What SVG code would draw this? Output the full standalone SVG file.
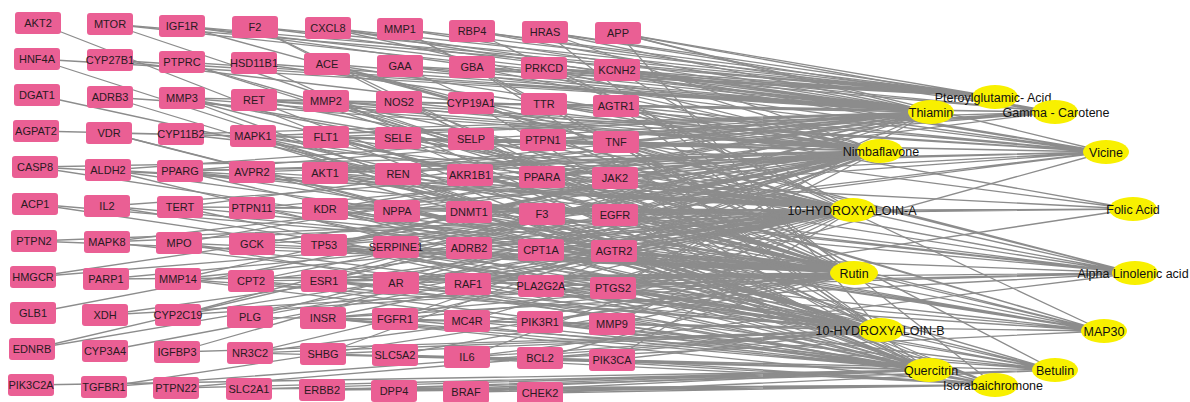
<svg xmlns="http://www.w3.org/2000/svg" width="1190" height="402" viewBox="0 0 1190 402">
<style>
.bg{fill:#ffffff}
#edges path{fill:none;stroke:#8c8c8c;stroke-width:1.3}
.t rect{fill:#EA5F94}
.t text{font-family:"Liberation Sans",Arial,sans-serif;font-size:11px;fill:#2a1a22;text-anchor:middle}
.c ellipse{fill:#F8F000}
.c text{font-family:"Liberation Sans",Arial,sans-serif;font-size:12.5px;fill:#111;text-anchor:middle}
</style>
<rect class="bg" x="0" y="0" width="1190" height="402"/>
<g id="edges">
<path id="e-Pt" d="M995 97L110 24M995 97L328 28M995 97L400 29M995 97L400 66M995 97L545 32M995 97L255 27M995 97L182 26M995 97L472 31M995 97L618 33M995 97L617 70M995 97L472 67M995 97L544 68"/>
<path id="e-Th" d="M931 112L110 24M931 112L182 26M931 112L255 27M931 112L328 28M931 112L400 29M931 112L472 31M931 112L545 32M931 112L618 33M931 112L37 59M931 112L110 60M931 112L182 62M931 112L254 63M931 112L327 64M931 112L400 66M931 112L472 67M931 112L544 68M931 112L617 70M931 112L182 98M931 112L254 100M931 112L326 101M931 112L399 102M931 112L471 103M931 112L544 104M931 112L616 106M931 112L181 134M931 112L253 136M931 112L326 137M931 112L471 139M931 112L543 140M931 112L616 142M931 112L108 170M931 112L180 171M931 112L325 173M931 112L398 174M931 112L542 177M931 112L180 207M931 112L325 209M931 112L469 212M931 112L615 215M931 112L179 243M931 112L324 245M931 112L614 251M931 112L178 279M931 112L324 281M931 112L613 288M931 112L178 315"/>
<path id="e-GC" d="M1055 112L472 31M1055 112L544 68M1055 112L471 103M1055 112L542 177M1055 112L543 140M1055 112L616 106M1055 112L617 70M1055 112L618 33M1055 112L545 32M1055 112L253 136M1055 112L616 142M1055 112L325 173"/>
<path id="e-Ni" d="M880 151L328 28M880 151L545 32M880 151L110 60M880 151L254 63M880 151L327 64M880 151L472 67M880 151L544 68M880 151L617 70M880 151L110 97M880 151L182 98M880 151L254 100M880 151L326 101M880 151L399 102M880 151L471 103M880 151L544 104M880 151L616 106M880 151L36 131M880 151L109 133M880 151L253 136M880 151L326 137M880 151L398 138M880 151L471 139M880 151L543 140M880 151L616 142M880 151L35 167M880 151L180 171M880 151L252 172M880 151L325 173M880 151L470 175M880 151L542 177M880 151L615 178M880 151L107 206M880 151L252 208M880 151L325 209M880 151L397 211M880 151L542 214M880 151L615 215M880 151L107 242M880 151L252 244M880 151L324 245M880 151L396 247M880 151L541 250M880 151L33 277M880 151L251 281M880 151L396 283M880 151L541 286M880 151L613 288M880 151L33 313M880 151L178 315M880 151L250 317M880 151L395 319M880 151L32 349M880 151L177 352M880 151L323 354"/>
<path id="e-Vi" d="M1106 152L182 26M1106 152L618 33M1106 152L326 101M1106 152L544 104M1106 152L616 106M1106 152L471 139M1106 152L616 142M1106 152L615 178M1106 152L615 215M1106 152L617 70M1106 152L328 28M1106 152L400 66M1106 152L254 100M1106 152L326 137M1106 152L325 173M1106 152L180 171M1106 152L325 209M1106 152L613 288M1106 152L324 245"/>
<path id="e-HA" d="M853 210L182 26M853 210L472 31M853 210L327 64M853 210L617 70M853 210L182 98M853 210L254 100M853 210L326 101M853 210L616 106M853 210L181 134M853 210L253 136M853 210L326 137M853 210L398 138M853 210L471 139M853 210L543 140M853 210L616 142M853 210L35 167M853 210L108 170M853 210L180 171M853 210L252 172M853 210L325 173M853 210L398 174M853 210L470 175M853 210L542 177M853 210L615 178M853 210L180 207M853 210L252 208M853 210L325 209M853 210L397 211M853 210L469 212M853 210L542 214M853 210L615 215M853 210L34 241M853 210L107 242M853 210L252 244M853 210L324 245M853 210L396 247M853 210L469 248M853 210L541 250M853 210L614 251M853 210L33 277M853 210L106 279M853 210L178 279M853 210L251 281M853 210L324 281M853 210L396 283M853 210L468 284M853 210L613 288M853 210L105 315M853 210L178 315M853 210L250 317M853 210L323 318M853 210L467 321M853 210L612 324M853 210L32 349M853 210L105 351M853 210L250 353M853 210L467 357M853 210L612 360"/>
<path id="e-FA" d="M1133 209L470 175M1133 209L544 104M1133 209L615 215M1133 209L613 288M1133 209L469 212M1133 209L616 142"/>
<path id="e-Ru" d="M854 273L110 24M854 273L400 29M854 273L182 62M854 273L400 66M854 273L37 95M854 273L182 98M854 273L326 101M854 273L399 102M854 273L616 106M854 273L253 136M854 273L326 137M854 273L398 138M854 273L616 142M854 273L108 170M854 273L180 171M854 273L325 173M854 273L398 174M854 273L470 175M854 273L542 177M854 273L615 178M854 273L35 204M854 273L107 206M854 273L180 207M854 273L252 208M854 273L325 209M854 273L397 211M854 273L469 212M854 273L542 214M854 273L615 215M854 273L34 241M854 273L179 243M854 273L252 244M854 273L324 245M854 273L396 247M854 273L469 248M854 273L541 250M854 273L614 251M854 273L106 279M854 273L178 279M854 273L251 281M854 273L324 281M854 273L396 283M854 273L468 284M854 273L541 286M854 273L613 288M854 273L105 315M854 273L178 315M854 273L323 318M854 273L395 319M854 273L540 322M854 273L612 324M854 273L250 353M854 273L395 355M854 273L540 358M854 273L104 387"/>
<path id="e-AL" d="M1135 273L327 64M1135 273L543 140M1135 273L325 173M1135 273L469 212M1135 273L615 215M1135 273L469 248M1135 273L541 286M1135 273L182 98M1135 273L253 136M1135 273L616 142M1135 273L180 171M1135 273L324 281M1135 273L613 288M1135 273L323 318M1135 273L467 357"/>
<path id="e-HB" d="M881 330L255 27M881 330L618 33M881 330L37 59M881 330L472 67M881 330L110 97M881 330L399 102M881 330L109 133M881 330L253 136M881 330L616 142M881 330L252 172M881 330L325 173M881 330L615 178M881 330L35 204M881 330L107 206M881 330L252 208M881 330L325 209M881 330L469 212M881 330L615 215M881 330L107 242M881 330L179 243M881 330L324 245M881 330L396 247M881 330L469 248M881 330L614 251M881 330L178 279M881 330L251 281M881 330L324 281M881 330L468 284M881 330L541 286M881 330L613 288M881 330L250 317M881 330L323 318M881 330L395 319M881 330L467 321M881 330L540 322M881 330L612 324M881 330L177 352M881 330L250 353M881 330L323 354M881 330L467 357M881 330L540 358M881 330L612 360M881 330L104 387M881 330L176 388"/>
<path id="e-MA" d="M1104 331L182 62M1104 331L544 68M1104 331L326 101M1104 331L326 137M1104 331L397 211M1104 331L614 251M1104 331L613 288M1104 331L612 324M1104 331L324 245M1104 331L325 209M1104 331L325 173M1104 331L324 281M1104 331L615 215M1104 331L540 358M1104 331L35 167"/>
<path id="e-Qu" d="M929 370L38 23M929 370L255 27M929 370L254 63M929 370L182 98M929 370L471 103M929 370L253 136M929 370L616 142M929 370L108 170M929 370L398 174M929 370L180 207M929 370L542 214M929 370L615 215M929 370L179 243M929 370L324 245M929 370L541 250M929 370L178 279M929 370L251 281M929 370L396 283M929 370L541 286M929 370L613 288M929 370L323 318M929 370L395 319M929 370L467 321M929 370L540 322M929 370L612 324M929 370L250 353M929 370L323 354M929 370L395 355M929 370L467 357M929 370L540 358M929 370L612 360M929 370L31 385M929 370L176 388M929 370L249 389M929 370L322 390M929 370L394 391M929 370L466 392"/>
<path id="e-Be" d="M1055 370L400 29M1055 370L109 133M1055 370L180 171M1055 370L324 245M1055 370L324 281M1055 370L613 288M1055 370L540 322M1055 370L467 357M1055 370L612 360M1055 370L322 390M1055 370L540 393M1055 370L253 136M1055 370L616 142M1055 370L323 318"/>
<path id="e-Is" d="M995 385L545 32M995 385L254 100M995 385L398 138M995 385L325 209M995 385L614 251M995 385L468 284M995 385L323 318M995 385L612 324M995 385L395 355M995 385L540 358M995 385L612 360M995 385L249 389M995 385L322 390M995 385L394 391M995 385L466 392M995 385L540 393"/>
</g>
<g id="compounds">
<g id="c-pteroylglutamic" class="c"><ellipse cx="995" cy="97" rx="23" ry="12"/><text x="993" y="102">Pteroylglutamic- Acid</text></g>
<g id="c-thiamin" class="c"><ellipse cx="931" cy="112" rx="23" ry="12"/><text x="931" y="117">Thiamin</text></g>
<g id="c-gamma-carotene" class="c"><ellipse cx="1055" cy="112" rx="23" ry="12"/><text x="1056" y="117">Gamma - Carotene</text></g>
<g id="c-nimbaflavone" class="c"><ellipse cx="880" cy="151" rx="23" ry="12"/><text x="881" y="156">Nimbaflavone</text></g>
<g id="c-vicine" class="c"><ellipse cx="1106" cy="152" rx="23" ry="12"/><text x="1106" y="157">Vicine</text></g>
<g id="c-10-hydroxyaloin-a" class="c"><ellipse cx="853" cy="210" rx="23" ry="12"/><text x="852" y="215">10-HYDROXYALOIN-A</text></g>
<g id="c-folic-acid" class="c"><ellipse cx="1133" cy="209" rx="24" ry="12"/><text x="1133" y="214">Folic Acid</text></g>
<g id="c-rutin" class="c"><ellipse cx="854" cy="273" rx="24" ry="12"/><text x="854" y="278">Rutin</text></g>
<g id="c-alpha-linolenic" class="c"><ellipse cx="1135" cy="273" rx="23" ry="12"/><text x="1133" y="278">Alpha Linolenic acid</text></g>
<g id="c-10-hydroxyaloin-b" class="c"><ellipse cx="881" cy="330" rx="23" ry="12"/><text x="880" y="335">10-HYDROXYALOIN-B</text></g>
<g id="c-map30" class="c"><ellipse cx="1104" cy="331" rx="23" ry="12"/><text x="1104" y="336">MAP30</text></g>
<g id="c-quercitrin" class="c"><ellipse cx="929" cy="370" rx="24" ry="12"/><text x="931" y="375">Quercitrin</text></g>
<g id="c-betulin" class="c"><ellipse cx="1055" cy="370" rx="23" ry="12"/><text x="1055" y="375">Betulin</text></g>
<g id="c-isorabaichromone" class="c"><ellipse cx="995" cy="385" rx="23" ry="12"/><text x="993" y="390">Isorabaichromone</text></g>
</g>
<g id="targets">
<g id="n-AKT2" class="t"><rect x="15" y="12" width="46" height="22" rx="3"/><text x="38" y="27">AKT2</text></g>
<g id="n-HNF4A" class="t"><rect x="14" y="48" width="46" height="22" rx="3"/><text x="37" y="63">HNF4A</text></g>
<g id="n-DGAT1" class="t"><rect x="14" y="84" width="46" height="22" rx="3"/><text x="37" y="99">DGAT1</text></g>
<g id="n-AGPAT2" class="t"><rect x="13" y="120" width="46" height="22" rx="3"/><text x="36" y="135">AGPAT2</text></g>
<g id="n-CASP8" class="t"><rect x="12" y="156" width="46" height="22" rx="3"/><text x="35" y="171">CASP8</text></g>
<g id="n-ACP1" class="t"><rect x="12" y="193" width="46" height="22" rx="3"/><text x="35" y="208">ACP1</text></g>
<g id="n-PTPN2" class="t"><rect x="11" y="230" width="46" height="22" rx="3"/><text x="34" y="245">PTPN2</text></g>
<g id="n-HMGCR" class="t"><rect x="10" y="266" width="46" height="22" rx="3"/><text x="33" y="281">HMGCR</text></g>
<g id="n-GLB1" class="t"><rect x="10" y="302" width="46" height="22" rx="3"/><text x="33" y="317">GLB1</text></g>
<g id="n-EDNRB" class="t"><rect x="9" y="338" width="46" height="22" rx="3"/><text x="32" y="353">EDNRB</text></g>
<g id="n-PIK3C2A" class="t"><rect x="8" y="374" width="46" height="22" rx="3"/><text x="31" y="389">PIK3C2A</text></g>
<g id="n-MTOR" class="t"><rect x="87" y="13" width="46" height="22" rx="3"/><text x="110" y="28">MTOR</text></g>
<g id="n-CYP27B1" class="t"><rect x="87" y="49" width="46" height="22" rx="3"/><text x="110" y="64">CYP27B1</text></g>
<g id="n-ADRB3" class="t"><rect x="87" y="86" width="46" height="22" rx="3"/><text x="110" y="101">ADRB3</text></g>
<g id="n-VDR" class="t"><rect x="86" y="122" width="46" height="22" rx="3"/><text x="109" y="137">VDR</text></g>
<g id="n-ALDH2" class="t"><rect x="85" y="159" width="46" height="22" rx="3"/><text x="108" y="174">ALDH2</text></g>
<g id="n-IL2" class="t"><rect x="84" y="195" width="46" height="22" rx="3"/><text x="107" y="210">IL2</text></g>
<g id="n-MAPK8" class="t"><rect x="84" y="231" width="46" height="22" rx="3"/><text x="107" y="246">MAPK8</text></g>
<g id="n-PARP1" class="t"><rect x="83" y="268" width="46" height="22" rx="3"/><text x="106" y="283">PARP1</text></g>
<g id="n-XDH" class="t"><rect x="82" y="304" width="46" height="22" rx="3"/><text x="105" y="319">XDH</text></g>
<g id="n-CYP3A4" class="t"><rect x="82" y="340" width="46" height="22" rx="3"/><text x="105" y="355">CYP3A4</text></g>
<g id="n-TGFBR1" class="t"><rect x="81" y="376" width="46" height="22" rx="3"/><text x="104" y="391">TGFBR1</text></g>
<g id="n-IGF1R" class="t"><rect x="159" y="15" width="46" height="22" rx="3"/><text x="182" y="30">IGF1R</text></g>
<g id="n-PTPRC" class="t"><rect x="159" y="51" width="46" height="22" rx="3"/><text x="182" y="66">PTPRC</text></g>
<g id="n-MMP3" class="t"><rect x="159" y="87" width="46" height="22" rx="3"/><text x="182" y="102">MMP3</text></g>
<g id="n-CYP11B2" class="t"><rect x="158" y="123" width="46" height="22" rx="3"/><text x="181" y="138">CYP11B2</text></g>
<g id="n-PPARG" class="t"><rect x="157" y="160" width="46" height="22" rx="3"/><text x="180" y="175">PPARG</text></g>
<g id="n-TERT" class="t"><rect x="157" y="196" width="46" height="22" rx="3"/><text x="180" y="211">TERT</text></g>
<g id="n-MPO" class="t"><rect x="156" y="232" width="46" height="22" rx="3"/><text x="179" y="247">MPO</text></g>
<g id="n-MMP14" class="t"><rect x="155" y="268" width="46" height="22" rx="3"/><text x="178" y="283">MMP14</text></g>
<g id="n-CYP2C19" class="t"><rect x="155" y="304" width="46" height="22" rx="3"/><text x="178" y="319">CYP2C19</text></g>
<g id="n-IGFBP3" class="t"><rect x="154" y="341" width="46" height="22" rx="3"/><text x="177" y="356">IGFBP3</text></g>
<g id="n-PTPN22" class="t"><rect x="153" y="377" width="46" height="22" rx="3"/><text x="176" y="392">PTPN22</text></g>
<g id="n-F2" class="t"><rect x="232" y="16" width="46" height="22" rx="3"/><text x="255" y="31">F2</text></g>
<g id="n-HSD11B1" class="t"><rect x="231" y="52" width="46" height="22" rx="3"/><text x="254" y="67">HSD11B1</text></g>
<g id="n-RET" class="t"><rect x="231" y="89" width="46" height="22" rx="3"/><text x="254" y="104">RET</text></g>
<g id="n-MAPK1" class="t"><rect x="230" y="125" width="46" height="22" rx="3"/><text x="253" y="140">MAPK1</text></g>
<g id="n-AVPR2" class="t"><rect x="229" y="161" width="46" height="22" rx="3"/><text x="252" y="176">AVPR2</text></g>
<g id="n-PTPN11" class="t"><rect x="229" y="197" width="46" height="22" rx="3"/><text x="252" y="212">PTPN11</text></g>
<g id="n-GCK" class="t"><rect x="229" y="233" width="46" height="22" rx="3"/><text x="252" y="248">GCK</text></g>
<g id="n-CPT2" class="t"><rect x="228" y="270" width="46" height="22" rx="3"/><text x="251" y="285">CPT2</text></g>
<g id="n-PLG" class="t"><rect x="227" y="306" width="46" height="22" rx="3"/><text x="250" y="321">PLG</text></g>
<g id="n-NR3C2" class="t"><rect x="227" y="342" width="46" height="22" rx="3"/><text x="250" y="357">NR3C2</text></g>
<g id="n-SLC2A1" class="t"><rect x="226" y="378" width="46" height="22" rx="3"/><text x="249" y="393">SLC2A1</text></g>
<g id="n-CXCL8" class="t"><rect x="305" y="17" width="46" height="22" rx="3"/><text x="328" y="32">CXCL8</text></g>
<g id="n-ACE" class="t"><rect x="304" y="53" width="46" height="22" rx="3"/><text x="327" y="68">ACE</text></g>
<g id="n-MMP2" class="t"><rect x="303" y="90" width="46" height="22" rx="3"/><text x="326" y="105">MMP2</text></g>
<g id="n-FLT1" class="t"><rect x="303" y="126" width="46" height="22" rx="3"/><text x="326" y="141">FLT1</text></g>
<g id="n-AKT1" class="t"><rect x="302" y="162" width="46" height="22" rx="3"/><text x="325" y="177">AKT1</text></g>
<g id="n-KDR" class="t"><rect x="302" y="198" width="46" height="22" rx="3"/><text x="325" y="213">KDR</text></g>
<g id="n-TP53" class="t"><rect x="301" y="234" width="46" height="22" rx="3"/><text x="324" y="249">TP53</text></g>
<g id="n-ESR1" class="t"><rect x="301" y="270" width="46" height="22" rx="3"/><text x="324" y="285">ESR1</text></g>
<g id="n-INSR" class="t"><rect x="300" y="307" width="46" height="22" rx="3"/><text x="323" y="322">INSR</text></g>
<g id="n-SHBG" class="t"><rect x="300" y="343" width="46" height="22" rx="3"/><text x="323" y="358">SHBG</text></g>
<g id="n-ERBB2" class="t"><rect x="299" y="379" width="46" height="22" rx="3"/><text x="322" y="394">ERBB2</text></g>
<g id="n-MMP1" class="t"><rect x="377" y="18" width="46" height="22" rx="3"/><text x="400" y="33">MMP1</text></g>
<g id="n-GAA" class="t"><rect x="377" y="55" width="46" height="22" rx="3"/><text x="400" y="70">GAA</text></g>
<g id="n-NOS2" class="t"><rect x="376" y="91" width="46" height="22" rx="3"/><text x="399" y="106">NOS2</text></g>
<g id="n-SELE" class="t"><rect x="375" y="127" width="46" height="22" rx="3"/><text x="398" y="142">SELE</text></g>
<g id="n-REN" class="t"><rect x="375" y="163" width="46" height="22" rx="3"/><text x="398" y="178">REN</text></g>
<g id="n-NPPA" class="t"><rect x="374" y="200" width="46" height="22" rx="3"/><text x="397" y="215">NPPA</text></g>
<g id="n-SERPINE1" class="t"><rect x="373" y="236" width="46" height="22" rx="3"/><text x="396" y="251">SERPINE1</text></g>
<g id="n-AR" class="t"><rect x="373" y="272" width="46" height="22" rx="3"/><text x="396" y="287">AR</text></g>
<g id="n-FGFR1" class="t"><rect x="372" y="308" width="46" height="22" rx="3"/><text x="395" y="323">FGFR1</text></g>
<g id="n-SLC5A2" class="t"><rect x="372" y="344" width="46" height="22" rx="3"/><text x="395" y="359">SLC5A2</text></g>
<g id="n-DPP4" class="t"><rect x="371" y="380" width="46" height="22" rx="3"/><text x="394" y="395">DPP4</text></g>
<g id="n-RBP4" class="t"><rect x="449" y="20" width="46" height="22" rx="3"/><text x="472" y="35">RBP4</text></g>
<g id="n-GBA" class="t"><rect x="449" y="56" width="46" height="22" rx="3"/><text x="472" y="71">GBA</text></g>
<g id="n-CYP19A1" class="t"><rect x="448" y="92" width="46" height="22" rx="3"/><text x="471" y="107">CYP19A1</text></g>
<g id="n-SELP" class="t"><rect x="448" y="128" width="46" height="22" rx="3"/><text x="471" y="143">SELP</text></g>
<g id="n-AKR1B1" class="t"><rect x="447" y="164" width="46" height="22" rx="3"/><text x="470" y="179">AKR1B1</text></g>
<g id="n-DNMT1" class="t"><rect x="446" y="201" width="46" height="22" rx="3"/><text x="469" y="216">DNMT1</text></g>
<g id="n-ADRB2" class="t"><rect x="446" y="237" width="46" height="22" rx="3"/><text x="469" y="252">ADRB2</text></g>
<g id="n-RAF1" class="t"><rect x="445" y="273" width="46" height="22" rx="3"/><text x="468" y="288">RAF1</text></g>
<g id="n-MC4R" class="t"><rect x="444" y="310" width="46" height="22" rx="3"/><text x="467" y="325">MC4R</text></g>
<g id="n-IL6" class="t"><rect x="444" y="346" width="46" height="22" rx="3"/><text x="467" y="361">IL6</text></g>
<g id="n-BRAF" class="t"><rect x="443" y="381" width="46" height="22" rx="3"/><text x="466" y="396">BRAF</text></g>
<g id="n-HRAS" class="t"><rect x="522" y="21" width="46" height="22" rx="3"/><text x="545" y="36">HRAS</text></g>
<g id="n-PRKCD" class="t"><rect x="521" y="57" width="46" height="22" rx="3"/><text x="544" y="72">PRKCD</text></g>
<g id="n-TTR" class="t"><rect x="521" y="93" width="46" height="22" rx="3"/><text x="544" y="108">TTR</text></g>
<g id="n-PTPN1" class="t"><rect x="520" y="129" width="46" height="22" rx="3"/><text x="543" y="144">PTPN1</text></g>
<g id="n-PPARA" class="t"><rect x="519" y="166" width="46" height="22" rx="3"/><text x="542" y="181">PPARA</text></g>
<g id="n-F3" class="t"><rect x="519" y="203" width="46" height="22" rx="3"/><text x="542" y="218">F3</text></g>
<g id="n-CPT1A" class="t"><rect x="518" y="239" width="46" height="22" rx="3"/><text x="541" y="254">CPT1A</text></g>
<g id="n-PLA2G2A" class="t"><rect x="518" y="275" width="46" height="22" rx="3"/><text x="541" y="290">PLA2G2A</text></g>
<g id="n-PIK3R1" class="t"><rect x="517" y="311" width="46" height="22" rx="3"/><text x="540" y="326">PIK3R1</text></g>
<g id="n-BCL2" class="t"><rect x="517" y="347" width="46" height="22" rx="3"/><text x="540" y="362">BCL2</text></g>
<g id="n-CHEK2" class="t"><rect x="517" y="382" width="46" height="22" rx="3"/><text x="540" y="397">CHEK2</text></g>
<g id="n-APP" class="t"><rect x="595" y="22" width="46" height="22" rx="3"/><text x="618" y="37">APP</text></g>
<g id="n-KCNH2" class="t"><rect x="594" y="59" width="46" height="22" rx="3"/><text x="617" y="74">KCNH2</text></g>
<g id="n-AGTR1" class="t"><rect x="593" y="95" width="46" height="22" rx="3"/><text x="616" y="110">AGTR1</text></g>
<g id="n-TNF" class="t"><rect x="593" y="131" width="46" height="22" rx="3"/><text x="616" y="146">TNF</text></g>
<g id="n-JAK2" class="t"><rect x="592" y="167" width="46" height="22" rx="3"/><text x="615" y="182">JAK2</text></g>
<g id="n-EGFR" class="t"><rect x="592" y="204" width="46" height="22" rx="3"/><text x="615" y="219">EGFR</text></g>
<g id="n-AGTR2" class="t"><rect x="591" y="240" width="46" height="22" rx="3"/><text x="614" y="255">AGTR2</text></g>
<g id="n-PTGS2" class="t"><rect x="590" y="277" width="46" height="22" rx="3"/><text x="613" y="292">PTGS2</text></g>
<g id="n-MMP9" class="t"><rect x="589" y="313" width="46" height="22" rx="3"/><text x="612" y="328">MMP9</text></g>
<g id="n-PIK3CA" class="t"><rect x="589" y="349" width="46" height="22" rx="3"/><text x="612" y="364">PIK3CA</text></g>
</g>
</svg>
